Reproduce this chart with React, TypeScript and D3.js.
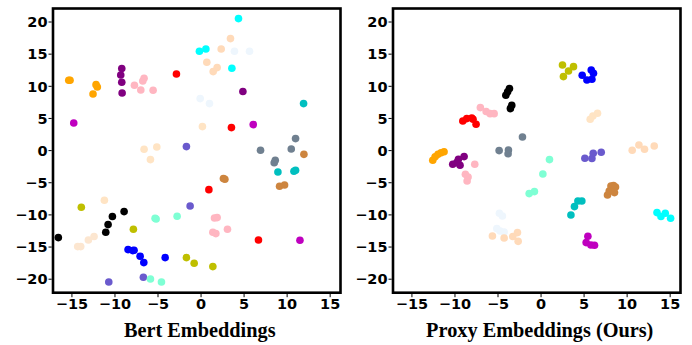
import React from "react";
import * as d3 from "d3";

type Pt = [number, number];

// ---------- Bert Embeddings (left) ----------
const bertOrange: Pt[] = [[-15.37, 10.93], [-15.22, 10.93], [-12.2, 10.26], [-12.05, 9.89], [-12.55, 8.8]];
const bertMagenta: Pt[] = [[-14.79, 4.29], [6.06, 4.04], [11.49, -13.95]];
const bertPurple: Pt[] = [[-9.21, 12.75], [-9.33, 11.76], [-9.21, 10.62], [-9.17, 8.96], [4.86, 9.18]];
const bertPink: Pt[] = [[-7.74, 10.16], [-7.0, 9.42], [-6.77, 10.82], [-6.62, 11.24], [-5.57, 9.38], [1.56, -10.48], [1.87, -10.42], [3.07, -12.24], [1.37, -12.71], [1.72, -12.91]];
const bertRed: Pt[] = [[-2.86, 11.91], [3.53, 3.58], [0.91, -6.07], [6.67, -13.9]];
const bertPeach: Pt[] = [[3.42, 17.42], [2.34, 15.8], [0.67, 13.73], [1.87, 12.91], [1.41, 12.29]];
const bertBisque: Pt[] = [[-6.62, 0.2], [-5.14, 0.56], [-5.88, -1.4], [0.16, 3.73], [-11.23, -7.73]];
const bertAntique: Pt[] = [[-13.09, -13.9], [-12.43, -13.37], [-14.33, -14.93], [-13.98, -14.93]];
const bertCyan: Pt[] = [[4.35, 20.53], [-0.19, 15.44], [0.56, 15.8], [3.58, 12.8]];
const bertAlice: Pt[] = [[3.88, 15.44], [5.63, 15.44], [-0.1, 8.09], [0.98, 7.31]];
const bertDarkCyan: Pt[] = [[11.91, 7.31], [8.93, -3.33], [10.79, -3.22], [10.98, -3.06]];
const bertSlateBlue: Pt[] = [[-1.7, 0.62], [-1.27, -8.62], [-10.72, -20.44], [-6.7, -19.7]];
const bertSlateGray: Pt[] = [[10.98, 1.87], [10.48, 0.25], [6.91, 0.05], [8.62, -1.51], [8.5, -1.9]];
const bertPeru: Pt[] = [[11.95, -0.58], [2.6, -4.35], [2.77, -4.46], [9.12, -5.55], [9.7, -5.35]];
const bertAquamarine: Pt[] = [[-2.78, -10.22], [-5.34, -10.53], [-5.22, -10.64], [-5.88, -19.97], [-4.6, -20.44]];
const bertOlive: Pt[] = [[-1.7, -16.64], [-0.8, -17.53], [1.37, -18.04], [-13.91, -8.82], [-7.86, -12.24]];
const bertBlack: Pt[] = [[-16.58, -13.53], [-11.07, -12.71], [-10.8, -11.51], [-10.3, -10.26], [-8.94, -9.49]];
const bertBlue: Pt[] = [[-8.48, -15.4], [-7.93, -15.55], [-7.78, -15.5], [-7.08, -16.44], [-6.65, -17.42], [-4.17, -16.64]];

// ---------- Proxy Embeddings (right) ----------
const proxyBlack: Pt[] = [[-4.09, 8.6], [-3.88, 9.14], [-3.67, 9.64], [-3.4, 7.05], [-3.56, 6.53]];
const proxyPink: Pt[] = [[-7.05, 6.69], [-6.38, 6.07], [-5.92, 5.75], [-5.45, 5.75], [-7.7, -2.13], [-8.79, -3.69], [-8.48, -4.11], [-8.59, -4.73]];
const proxyRed: Pt[] = [[-9.09, 4.6], [-8.63, 4.98], [-8.05, 5.07], [-7.9, 4.87], [-7.55, 4.09]];
const proxySlateGray: Pt[] = [[-4.87, 0], [-3.79, 0.09], [-3.83, -0.5], [-2.16, 2.12]];
const proxyOrange: Pt[] = [[-12.58, -1.51], [-12.31, -0.96], [-11.97, -0.58], [-11.62, -0.34], [-11.27, -0.19]];
const proxyPurple: Pt[] = [[-10.26, -2.13], [-9.79, -1.87], [-9.6, -1.35], [-9.41, -2.29], [-8.94, -0.93]];
const proxyAlice: Pt[] = [[-4.84, -9.75], [-4.49, -10.17], [-5.14, -12.13], [-4.29, -12.66], [-4.76, -12.5]];
const proxyPeach: Pt[] = [[-5.65, -13.28], [-4.29, -13.59], [-3.28, -13.37], [-2.74, -12.75], [-2.66, -14.11]];
const proxyAquamarine: Pt[] = [[0.98, -1.4], [0.21, -3.64], [-0.77, -6.38], [-1.38, -6.69]];
const proxyDarkCyan: Pt[] = [[3.47, -10.02], [3.88, -8.71], [4.28, -7.84], [4.74, -7.84]];
const proxyMagenta: Pt[] = [[5.44, -13.33], [5.24, -14.31], [5.79, -14.68], [6.21, -14.73]];
const proxyPeru: Pt[] = [[7.72, -6.91], [7.92, -6.28], [8.12, -5.51], [8.42, -5.44], [8.65, -5.66], [8.53, -6.53]];
const proxyCyan: Pt[] = [[13.47, -9.64], [13.93, -10.26], [14.43, -9.75], [15.05, -10.53]];
const proxySlateBlue: Pt[] = [[5.09, -1.2], [5.91, -1.24], [6.06, -0.42], [6.99, -0.26]];
const proxyAntique: Pt[] = [[5.71, 4.87], [6.02, 5.38], [6.56, 5.8]];
const proxyBisque: Pt[] = [[10.59, 0.05], [11.37, 0.87], [12.02, 0.2], [13.15, 0.72]];
const proxyOlive: Pt[] = [[2.49, 13.31], [3.77, 13.06], [3.19, 12.38], [2.6, 11.51]];
const proxyBlue: Pt[] = [[4.78, 11.71], [5.83, 12.54], [6.09, 12.02], [5.91, 11.09], [5.33, 10.98]];

const xTicks = [-15, -10, -5, 0, 5, 10, 15];
const yTicks = [-20, -15, -10, -5, 0, 5, 10, 15, 20];
const titles = ["Bert Embeddings", "Proxy Embeddings (Ours)"];

const C = {
  orange: "#FFA500", magenta: "#BF00BF", purple: "#800080", pink: "#FFB6C1", red: "#FF0000",
  peach: "#FFDAB9", bisque: "#FFE4C4", antique: "#FCE6D0", cyan: "#00FFFF", alice: "#EEF6FD",
  darkcyan: "#00BFBF", slateblue: "#6A5ACD", slategray: "#708090", peru: "#CD853F",
  aquamarine: "#7FFFD4", olive: "#BFBF00", black: "#000000", blue: "#0000FF",
};

const leftSeries: [string, Pt[]][] = [
  [C.orange, bertOrange], [C.magenta, bertMagenta], [C.purple, bertPurple], [C.pink, bertPink],
  [C.red, bertRed], [C.peach, bertPeach], [C.bisque, bertBisque], [C.antique, bertAntique],
  [C.cyan, bertCyan], [C.alice, bertAlice], [C.darkcyan, bertDarkCyan], [C.slateblue, bertSlateBlue],
  [C.slategray, bertSlateGray], [C.peru, bertPeru], [C.aquamarine, bertAquamarine], [C.olive, bertOlive],
  [C.black, bertBlack], [C.blue, bertBlue],
];
const rightSeries: [string, Pt[]][] = [
  [C.black, proxyBlack], [C.pink, proxyPink], [C.red, proxyRed], [C.slategray, proxySlateGray],
  [C.orange, proxyOrange], [C.purple, proxyPurple], [C.alice, proxyAlice], [C.peach, proxyPeach],
  [C.aquamarine, proxyAquamarine], [C.darkcyan, proxyDarkCyan], [C.magenta, proxyMagenta],
  [C.peru, proxyPeru], [C.cyan, proxyCyan], [C.slateblue, proxySlateBlue], [C.bisque, proxyAntique],
  [C.peach, proxyBisque], [C.olive, proxyOlive], [C.blue, proxyBlue],
];

const W = 692, H = 345;
const TOP = 8.5, BOTTOM = 292.7, PW = 287.5;
const panelsLeft = [53, 393];
const XDOM: [number, number] = [-17.2, 16.2];
const YDOM: [number, number] = [-22.1, 22.1];
const FONT = "'DejaVu Sans', sans-serif";

function Panel({ x0, series, title }: { x0: number; series: [string, Pt[]][]; title: string }) {
  const x = d3.scaleLinear().domain(XDOM).range([x0, x0 + PW]);
  const y = d3.scaleLinear().domain(YDOM).range([BOTTOM, TOP]);
  return (
    <g>
      {series.map(([color, pts], i) => (
        <g key={i}>
          {pts.map((p, j) => (
            <circle key={j} cx={x(p[0])} cy={y(p[1])} r={3.8} fill={color} />
          ))}
        </g>
      ))}
      <rect x={x0} y={TOP} width={PW} height={BOTTOM - TOP} fill="none" stroke="#000" strokeWidth={2.6} />
      {xTicks.map((t) => (
        <g key={"x" + t}>
          <line x1={x(t)} x2={x(t)} y1={BOTTOM + 1.3} y2={BOTTOM + 4.5} stroke="#000" strokeWidth={1} />
          <text x={x(t)} y={309} textAnchor="middle" fontFamily={FONT} fontWeight="bold" fontSize={14.5}>
            {t < 0 ? "\u2212" + Math.abs(t) : String(t)}
          </text>
        </g>
      ))}
      {yTicks.map((t) => (
        <g key={"y" + t}>
          <line x1={x0 - 4.5} x2={x0 - 1.3} y1={y(t)} y2={y(t)} stroke="#000" strokeWidth={1} />
          <text x={x0 - 5.5} y={y(t)} dy="0.36em" textAnchor="end" fontFamily={FONT} fontWeight="bold" fontSize={14.5}>
            {t < 0 ? "\u2212" + Math.abs(t) : String(t)}
          </text>
        </g>
      ))}
      <text x={x0 + PW / 2 + 3} y={337} textAnchor="middle" fontFamily="'Liberation Serif', 'Times New Roman', serif" fontWeight="bold" fontSize={20.3}>
        {title}
      </text>
    </g>
  );
}

export default function App() {
  return (
    <svg width={W} height={H} style={{ position: "absolute", left: 0, top: 0, background: "#fff" }}>
      <rect width={W} height={H} fill="#fff" />
      <Panel x0={panelsLeft[0]} series={leftSeries} title={titles[0]} />
      <Panel x0={panelsLeft[1]} series={rightSeries} title={titles[1]} />
    </svg>
  );
}
